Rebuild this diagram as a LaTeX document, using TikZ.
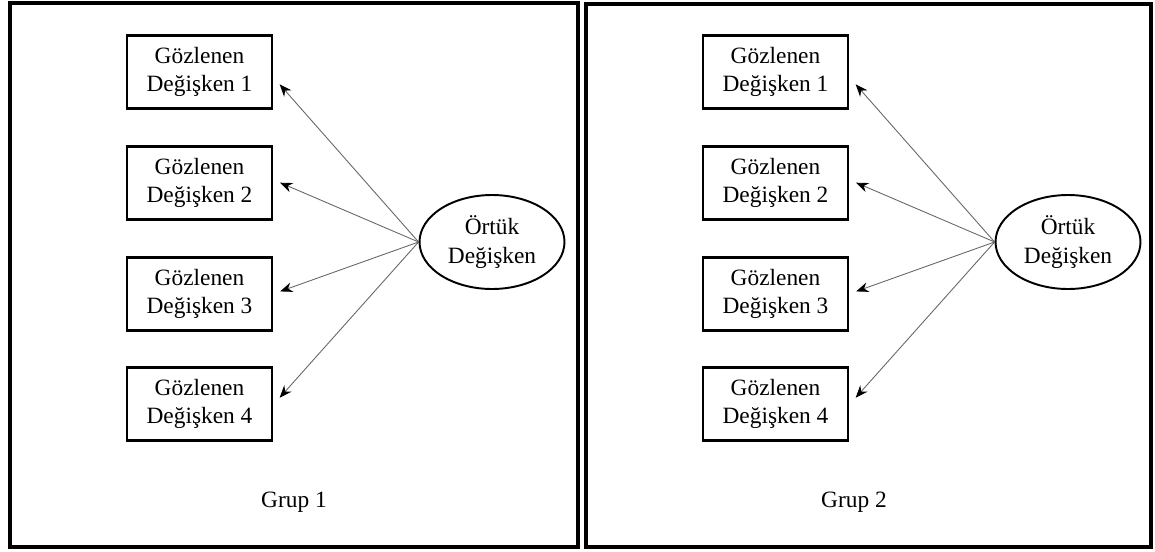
\documentclass[tikz,border=0pt]{standalone}
\usepackage{fontspec}
\setmainfont{Liberation Serif}
\usetikzlibrary{shapes.geometric,arrows.meta}

\tikzset{
    panel/.style={draw, line width=1.8pt},
    obsbox/.style={draw, line width=1.4pt, minimum width=2.9cm, minimum height=1.46cm,
        inner sep=0pt, align=center, font=\fontsize{13.3}{16}\selectfont},
    latentvar/.style={draw, ellipse, line width=1.1pt, minimum width=2.9cm, minimum height=1.88cm,
        inner sep=0pt, align=center, font=\fontsize{13.3}{16}\selectfont},
    grouplabel/.style={font=\fontsize{13.3}{16}\selectfont},
    loading/.style={->, draw=black!60, line width=0.5pt, shorten >=1pt}
}

\begin{document}
\begin{tikzpicture}[x=0.02cm, y=-0.02cm, >={Stealth[length=7pt,width=5.5pt,color=black]}]
    \useasboundingbox (0,0) rectangle (1155,551);

    % cerceveler
    \draw[panel] (10,3) rectangle (578,547);
    \draw[panel] (586,4) rectangle (1151,547);

    % grup 1
    \node[latentvar] (latA) at (492,242) {Örtük\\Değişken};
    \foreach \i/\y/\dy in {1/72/-11, 2/183/1, 3/294/2, 4/404/5} {
        \node[obsbox] (obsA\i) at (199.5,\y) {Gözlenen\\Değişken \i};
        \draw[loading] (latA.west) -- ([xshift=3pt, yshift=\dy*0.02cm]obsA\i.east);
    }
    \node[grouplabel] (grpA) at (294,502) {Grup 1};

    % grup 2
    \node[latentvar] (latB) at (1068,242) {Örtük\\Değişken};
    \foreach \i/\y/\dy in {1/72/-11, 2/183/1, 3/294/2, 4/404/5} {
        \node[obsbox] (obsB\i) at (775.5,\y) {Gözlenen\\Değişken \i};
        \draw[loading] (latB.west) -- ([xshift=3pt, yshift=\dy*0.02cm]obsB\i.east);
    }
    \node[grouplabel] (grpB) at (854,502) {Grup 2};
\end{tikzpicture}
\end{document}
